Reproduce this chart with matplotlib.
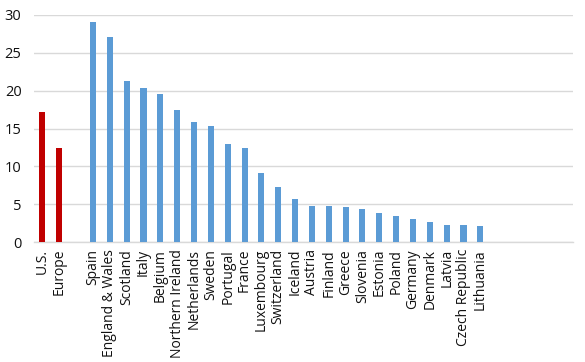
import matplotlib
matplotlib.use("Agg")
import matplotlib.pyplot as plt

categories = ["U.S.", "Europe", "", "Spain", "England & Wales", "Scotland", "Italy", "Belgium",
              "Northern Ireland", "Netherlands", "Sweden", "Portugal", "France", "Luxembourg",
              "Switzerland", "Iceland", "Austria", "Finland", "Greece", "Slovenia", "Estonia",
              "Poland", "Germany", "Denmark", "Latvia", "Czech Republic", "Lithuania",
              "", "", "", "", ""]
values = [17.2, 12.4, None, 29.1, 27.1, 21.3, 20.4, 19.6, 17.5, 15.9, 15.3, 13.0, 12.4, 9.1,
          7.3, 5.7, 4.8, 4.8, 4.6, 4.4, 3.8, 3.4, 3.0, 2.6, 2.3, 2.3, 2.1,
          None, None, None, None, None]
highlight = ["U.S.", "Europe"]
yticks = [0, 5, 10, 15, 20, 25, 30]

RED = "#C00000"
BLUE = "#5B9BD5"

fig = plt.figure(figsize=(5.85, 3.62), dpi=100)
ax = fig.add_axes([34/585, 1-242/362, (573-34)/585, (242-15)/362])

xs = [i for i, v in enumerate(values) if v is not None]
hs = [v for v in values if v is not None]
cs = [RED if categories[i] in highlight else BLUE for i in xs]
ax.bar(xs, hs, width=0.36, color=cs, zorder=3)

ax.set_xlim(-0.5, len(categories) - 0.5)
ax.set_ylim(0, 30)
ax.set_yticks(yticks)
ax.set_yticklabels([str(t) for t in yticks], fontsize=10.5, family="Open Sans", color="#111111")
ax.set_xticks(range(len(categories)))
ax.set_xticklabels(categories, rotation=90, fontsize=10, family="Open Sans", va="top", ha="center",
                   color="#111111")
ax.tick_params(axis="both", length=0)
ax.tick_params(axis="y", pad=9)
ax.tick_params(axis="x", pad=5)
ax.grid(axis="y", color="#D9D9D9", linewidth=1.0, zorder=0)
for s in ["top", "right", "left"]:
    ax.spines[s].set_visible(False)
ax.spines["bottom"].set_color("#D9D9D9")
ax.spines["bottom"].set_linewidth(1.0)

fig.savefig("out.png", dpi=100)
